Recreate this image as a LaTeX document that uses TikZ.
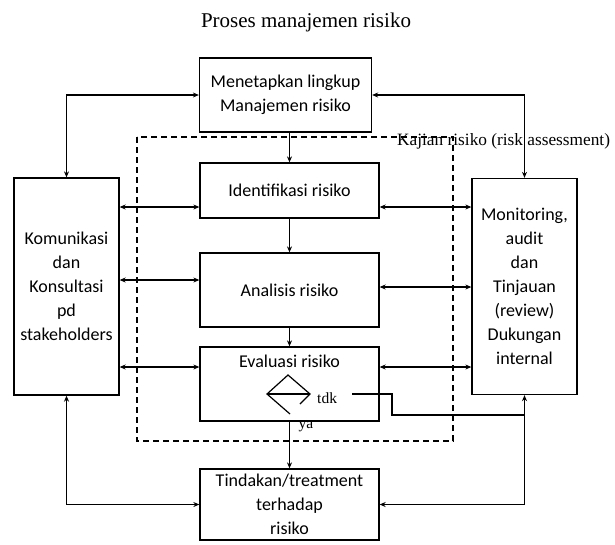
\documentclass[tikz,border=0pt]{standalone}
\usepackage{fontspec}
\setmainfont{Carlito}
\newfontfamily\seriffont{Liberation Serif}
\usetikzlibrary{arrows.meta}
\begin{document}
\begin{tikzpicture}[x=1pt,y=-1pt,
  box/.style={draw,line width=1.3pt,rectangle,inner sep=0pt,align=center,
    font=\fontsize{18}{24}\selectfont},
  conn/.style={line width=1.2pt},
  tip/.style={-{Stealth[length=6pt,width=5pt]}},
  dtip/.style={{Stealth[length=6pt,width=5pt]}-{Stealth[length=6pt,width=5pt]}},
  serifsmall/.style={font=\seriffont\fontsize{15.5}{18}\selectfont,inner sep=0pt}]
\useasboundingbox (0,0) rectangle (615,544);
% title
\node[font=\seriffont\fontsize{21}{26}\selectfont] (title) at (306,22) {Proses manajemen risiko};
% dashed assessment frame
\draw[line width=1.2pt,dash pattern=on 6pt off 4pt] (137,137) rectangle (453,441);
\node[font=\seriffont\fontsize{17.3}{20}\selectfont,anchor=west,inner sep=0pt] (kajian) at (397,141) {Kajian risiko (risk assessment)};
% boxes
\node[box,minimum width=172pt,minimum height=74pt] (top) at (285.5,95) {Menetapkan lingkup\\Manajemen risiko};
\node[box,minimum width=179pt,minimum height=55pt] (ident) at (289.5,190.5) {Identifikasi risiko};
\node[box,minimum width=179pt,minimum height=74pt] (anal) at (289.5,290) {Analisis risiko};
\node[box,minimum width=179pt,minimum height=74pt] (eval) at (289.5,384) {};
\node[font=\fontsize{18}{24}\selectfont,inner sep=0pt] (evaltxt) at (289.5,361) {Evaluasi risiko};
\node[box,minimum width=179pt,minimum height=71pt] (tind) at (289.5,504.5) {Tindakan/treatment\\terhadap\\risiko};
\node[box,minimum width=105pt,minimum height=217pt] (left) at (66.5,286.5) {Komunikasi\\dan\\Konsultasi\\pd\\stakeholders};
\node[box,minimum width=105pt,minimum height=216pt] (right) at (524.5,286.5) {Monitoring,\\audit\\dan\\Tinjauan\\(review)\\Dukungan\\internal};
% decision diamond
\draw[line width=1.2pt] (290,414) -- (267,394) -- (288,375) -- (310,394) -- (300,404);
\draw[line width=1.2pt] (267,394) -- (310,394);
\node[serifsmall,anchor=west] (tdk) at (317,398) {tdk};
\node[serifsmall] (ya) at (306,427) {ya};
% vertical flow
\draw[conn,tip] (ident.north |- top.south) -- (ident.north);
\draw[conn,tip] (ident.south) -- (anal.north);
\draw[conn,tip] (anal.south) -- (eval.north);
\draw[conn,tip] (eval.south) -- (tind.north);
% outer loops
\draw[conn,dtip] (left.north) |- (top.west);
\draw[conn,dtip] (right.north) |- (top.east);
\draw[conn,dtip] (left.south) |- (tind.west);
\draw[conn,dtip] (right.south) |- (tind.east);
% horizontal links
\coordinate (ya1) at (0,207);
\coordinate (ya2) at (0,280);
\coordinate (ya3) at (0,367);
\coordinate (yb2) at (0,287);
\draw[conn,dtip] (left.east |- ya1) -- (ident.west |- ya1);
\draw[conn,dtip] (left.east |- ya2) -- (anal.west |- ya2);
\draw[conn,dtip] (left.east |- ya3) -- (eval.west |- ya3);
\draw[conn,dtip] (ident.east |- ya1) -- (right.west |- ya1);
\draw[conn,dtip] (anal.east |- yb2) -- (right.west |- yb2);
\draw[conn,dtip] (eval.east |- ya3) -- (right.west |- ya3);
% tdk branch
\coordinate (t0) at (352,394);
\coordinate (t1) at (392,415);
\draw[conn] (t0) -| (t1) -- (right.south |- t1);
\end{tikzpicture}
\end{document}
